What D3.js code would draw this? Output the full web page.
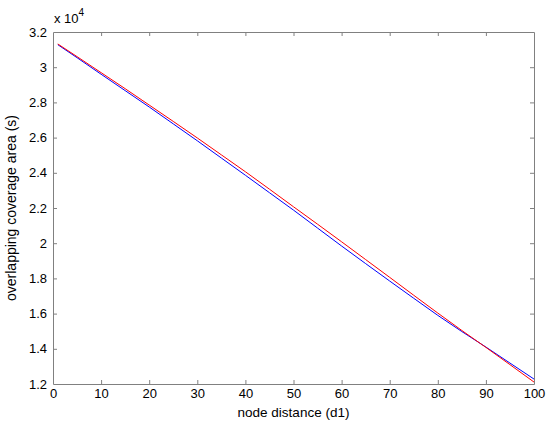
<!DOCTYPE html>
<html lang="en">
<head>
    <meta charset="UTF-8">
    <title>Overlapping coverage area</title>
    <script src="https://d3js.org/d3.v7.min.js"></script>
    <style>
        body { margin: 0; background: #fff; }
        svg { display: block; }
        text { font-family: 'Liberation Sans', Arial, sans-serif; fill: #000; }
    </style>
</head>
<body>
<div id="chart"></div>
<script>
    // values (raw counts, plotted in units of 1e4)
    const distance = [1, 5, 10, 15, 20, 25, 30, 35, 40, 45, 50, 55, 60, 65, 70, 75, 80, 85, 90, 95, 100];
    const redArea = [31320, 30600, 29690, 28780, 27850, 26920, 25980, 25020, 24060, 23070, 22070,
        21080, 20080, 19070, 18060, 17040, 16030, 15040, 14080, 13100, 12110];
    const blueArea = [31280, 30540, 29600, 28670, 27740, 26780, 25820, 24840, 23860, 22870, 21880,
        20860, 19840, 18840, 17850, 16870, 15900, 14980, 14100, 13190, 12280];
    const xTicks = [0, 10, 20, 30, 40, 50, 60, 70, 80, 90, 100];
    const yTicks = [1.2, 1.4, 1.6, 1.8, 2, 2.2, 2.4, 2.6, 2.8, 3, 3.2];

    let width = 550, height = 427;
    let margin = { top: 32, right: 16, bottom: 43, left: 53 };

    let svg = d3.select("#chart").append("svg")
        .attr("width", width)
        .attr("height", height);

    let x = d3.scaleLinear().domain([0, 100]).range([margin.left, width - margin.right]);
    let y = d3.scaleLinear().domain([1.2, 3.2]).range([height - margin.bottom, margin.top]);

    let axisColor = "#808080";

    // axes with inward ticks, mirrored on top and right
    let gBottom = svg.append("g")
        .attr("transform", `translate(0,${height - margin.bottom})`)
        .call(d3.axisBottom(x).tickValues(xTicks).tickSizeInner(-4).tickSizeOuter(0).tickPadding(4));
    let gTop = svg.append("g")
        .attr("transform", `translate(0,${margin.top})`)
        .call(d3.axisTop(x).tickValues(xTicks).tickSizeInner(-4).tickSizeOuter(0).tickFormat(""));
    let gLeft = svg.append("g")
        .attr("transform", `translate(${margin.left},0)`)
        .call(d3.axisLeft(y).tickValues(yTicks).tickSizeInner(-4).tickSizeOuter(0).tickPadding(6)
            .tickFormat(d3.format("~g")));
    let gRight = svg.append("g")
        .attr("transform", `translate(${width - margin.right},0)`)
        .call(d3.axisRight(y).tickValues(yTicks).tickSizeInner(-4).tickSizeOuter(0).tickFormat(""));

    [gBottom, gTop, gLeft, gRight].forEach(g => {
        g.select(".domain").attr("stroke", axisColor);
        g.selectAll(".tick line").attr("stroke", axisColor);
        g.selectAll(".tick text")
            .style("font-size", "13px")
            .attr("fill", "#000");
    });
    gBottom.selectAll(".tick text").attr("dy", "0.75em");
    // keep end ticks off the box corners
    [gBottom, gTop].forEach(g => g.selectAll(".tick line").filter(d => d === 0 || d === 100).remove());
    [gLeft, gRight].forEach(g => g.selectAll(".tick line").filter(d => d === 1.2 || d === 3.2).remove());

    // lines
    let line = d3.line()
        .x(d => x(d[0]))
        .y(d => y(d[1] / 1e4));

    svg.append("path")
        .datum(distance.map((d, i) => [d, blueArea[i]]))
        .attr("fill", "none")
        .attr("stroke", "#0000ff")
        .attr("stroke-width", 1)
        .attr("d", line);

    svg.append("path")
        .datum(distance.map((d, i) => [d, redArea[i]]))
        .attr("fill", "none")
        .attr("stroke", "#ff0000")
        .attr("stroke-width", 1)
        .attr("d", line);

    // labels
    svg.append("text")
        .attr("x", (margin.left + width - margin.right) / 2)
        .attr("y", height - 10)
        .attr("text-anchor", "middle")
        .style("font-size", "13.5px")
        .text("node distance (d1)");

    svg.append("text")
        .attr("transform", `translate(16,${(margin.top + height - margin.bottom) / 2}) rotate(-90)`)
        .attr("text-anchor", "middle")
        .style("font-size", "14px")
        .text("overlapping coverage area (s)");

    let expo = svg.append("text")
        .attr("x", margin.left + 1)
        .attr("y", 23)
        .style("font-size", "13px");
    expo.append("tspan").text("x 10");
    expo.append("tspan").attr("dy", -7).style("font-size", "10px").text("4");
</script>
</body>
</html>
